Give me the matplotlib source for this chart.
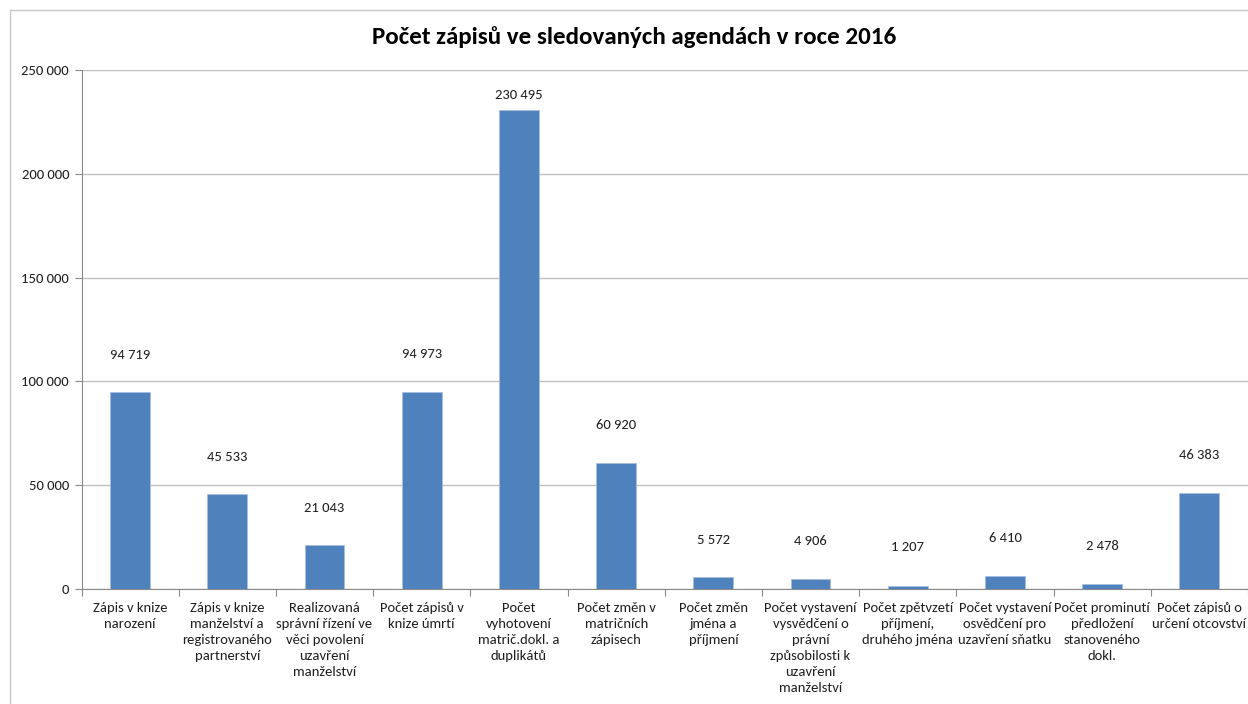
import matplotlib
matplotlib.use("Agg")
import matplotlib.pyplot as plt
from matplotlib.ticker import FuncFormatter, FixedLocator
import numpy as np

plt.rcParams["font.family"] = ["Carlito", "Liberation Sans Narrow", "Liberation Sans", "DejaVu Sans"]

TITLE = "Počet zápisů ve sledovaných agendách v roce 2016"
categories = [
    "Zápis v knize\nnarození",
    "Zápis v knize\nmanželství a\nregistrovaného\npartnerství",
    "Realizovaná\nsprávní řízení ve\nvěci povolení\nuzavření\nmanželství",
    "Počet zápisů v\nknize úmrtí",
    "Počet\nvyhotovení\nmatrič.dokl. a\nduplikátů",
    "Počet změn v\nmatričních\nzápisech",
    "Počet změn\njména a\npříjmení",
    "Počet vystavení\nvysvědčení o\nprávní\nzpůsobilosti k\nuzavření\nmanželství",
    "Počet zpětvzetí\npříjmení,\ndruhého jména",
    "Počet vystavení\nosvědčení pro\nuzavření sňatku",
    "Počet prominutí\npředložení\nstanoveného\ndokl.",
    "Počet zápisů o\nurčení otcovství",
]
values = [94719, 45533, 21043, 94973, 230495, 60920, 5572, 4906, 1207, 6410, 2478, 46383]

BAR = "#4F81BD"
GRID = "#BFBFBF"
AXIS = "#898989"
TXT = "#1F1F1F"


def fmt(v, _=None):
    return f"{int(v):,}".replace(",", " ")


fig = plt.figure(figsize=(12.48, 7.04), dpi=100)
# chart frame (left/top border like the Excel chart area)
fig.add_artist(plt.Line2D([10 / 1248, 10 / 1248], [0, 1 - 10 / 704], color="#C8C8C8", lw=1))
fig.add_artist(plt.Line2D([10 / 1248, 1], [1 - 10 / 704, 1 - 10 / 704], color="#C8C8C8", lw=1))

ax = fig.add_axes([81.5 / 1248, (704 - 589) / 704, (1248 - 81.5) / 1248, (589 - 70) / 704])
x = np.arange(len(values))
ax.bar(x, values, width=0.41, color=BAR, edgecolor="#A7BFDE", linewidth=0.6, zorder=3)

for xi, v in zip(x, values):
    ly = min(max(v + 18000, 20000), 238000)
    ax.text(xi, ly, fmt(v), ha="center", va="center", fontsize=10.5, color=TXT)

ax.set_xlim(-0.5, len(values) - 0.5)
ax.set_ylim(0, 250000)
ax.set_yticks(np.arange(0, 250001, 50000))
ax.yaxis.set_major_formatter(FuncFormatter(fmt))
ax.yaxis.grid(True, color=GRID, lw=1, zorder=0)
ax.set_axisbelow(True)

ax.xaxis.set_major_locator(FixedLocator(np.arange(-0.5, len(values), 1)))
ax.xaxis.set_minor_locator(FixedLocator(x))
ax.set_xticklabels([])
ax.set_xticklabels(categories, minor=True, fontsize=10.5, color=TXT, linespacing=1.42, va="top")
ax.tick_params(axis="x", which="major", length=5, color=AXIS, direction="out")
ax.tick_params(axis="x", which="minor", length=0, pad=9)
ax.tick_params(axis="y", length=5, color=AXIS, labelsize=10.5, labelcolor=TXT, pad=4)

for s in ["top", "right"]:
    ax.spines[s].set_visible(False)
ax.spines["left"].set_color(AXIS)
ax.spines["bottom"].set_color(AXIS)

fig.text(634 / 1248, 1 - 37 / 704, TITLE, ha="center", va="center", fontsize=18,
         fontweight="bold", color="#000000")

fig.savefig("out.png", dpi=100)
